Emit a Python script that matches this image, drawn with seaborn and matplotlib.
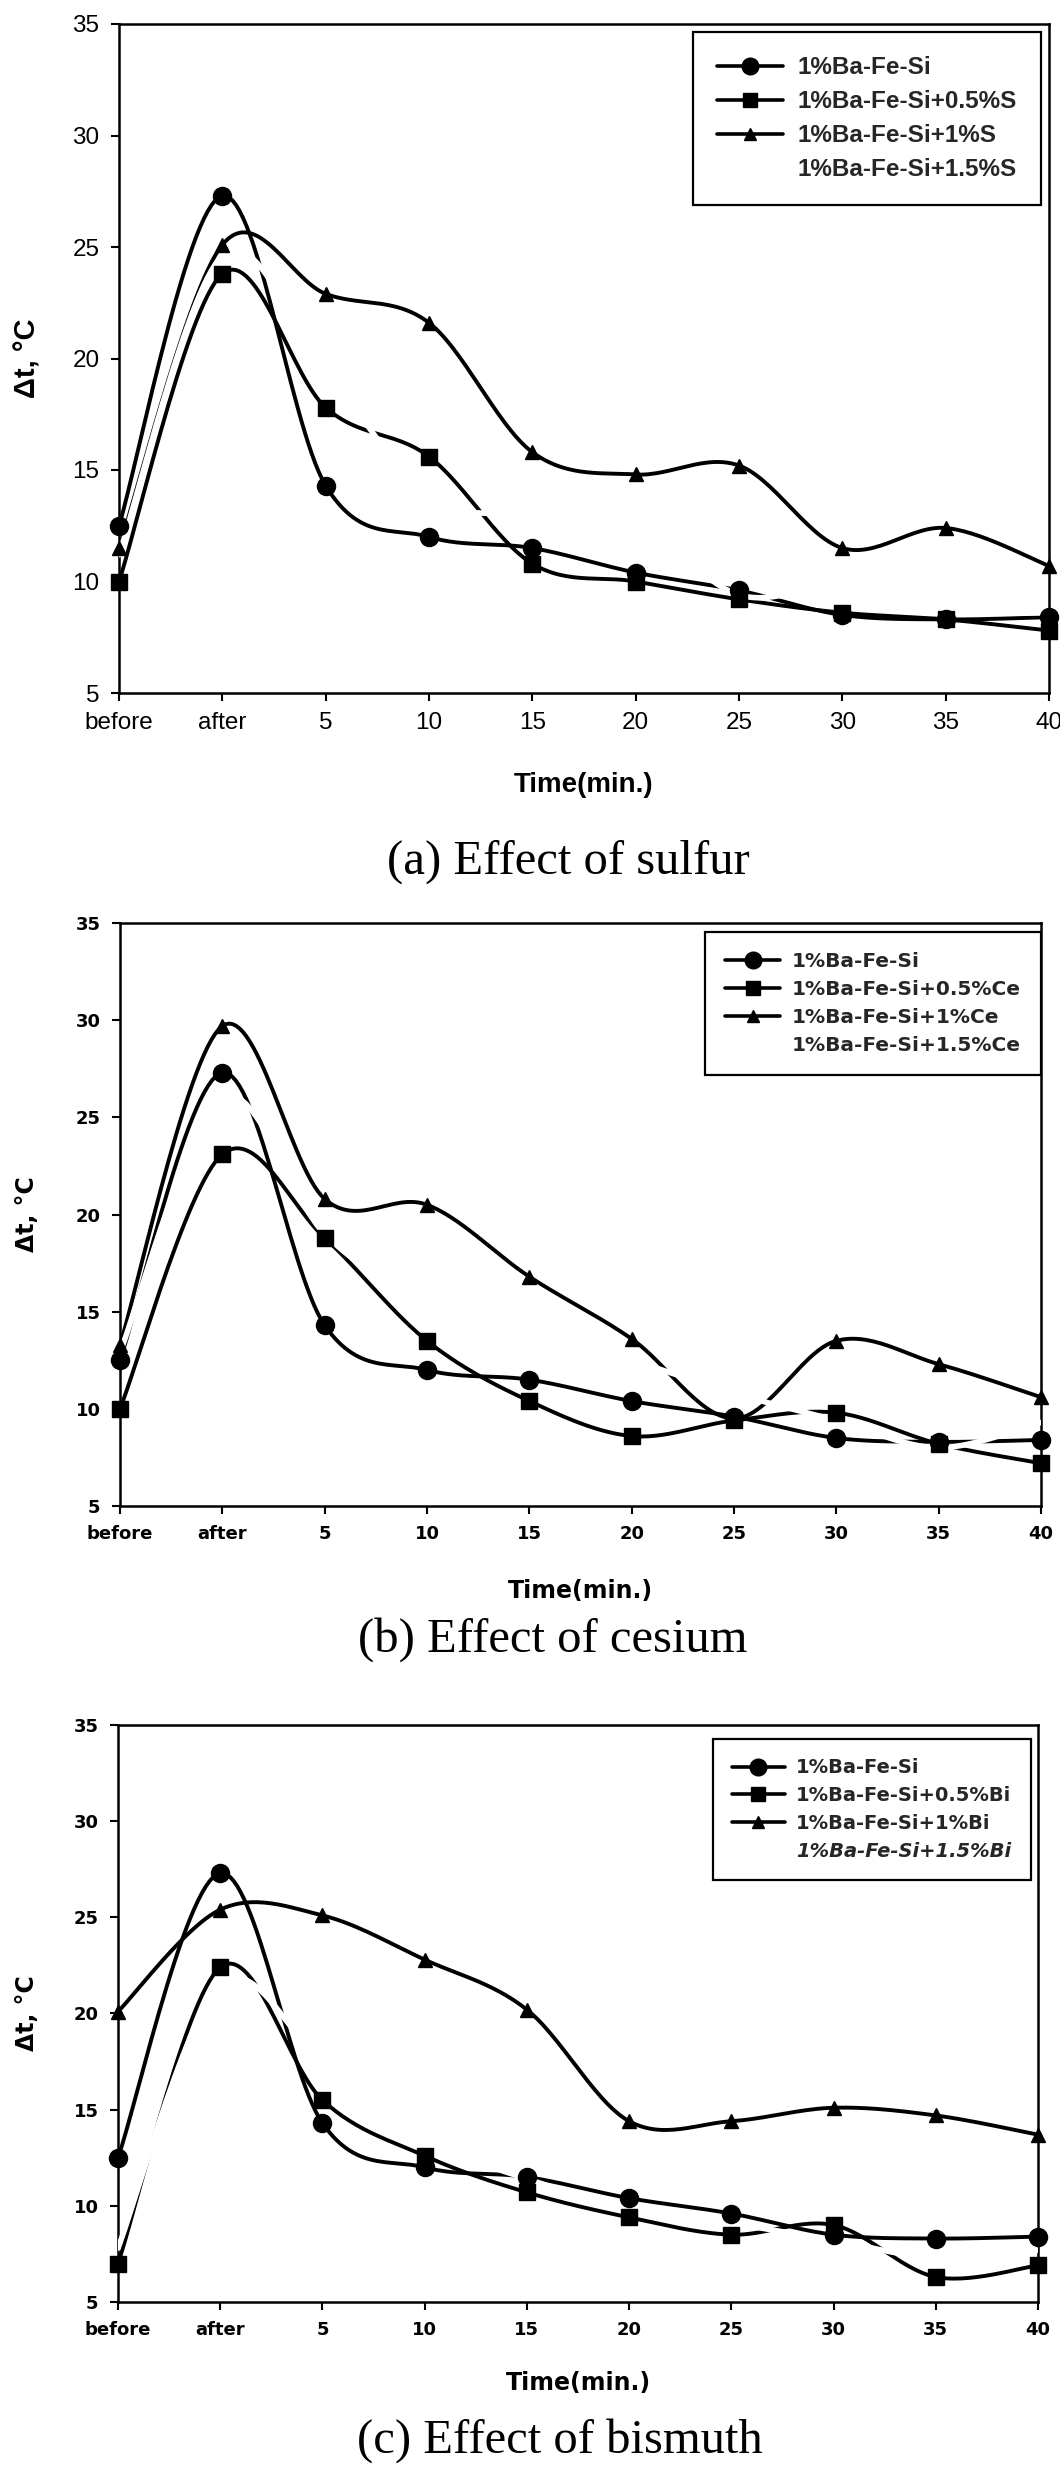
import numpy as np
import pandas as pd
import matplotlib
matplotlib.use("Agg")
import matplotlib.pyplot as plt
import seaborn as sns
from matplotlib.lines import Line2D

# ---------------- data ----------------
time_labels = ["before", "after", "5", "10", "15", "20", "25", "30", "35", "40"]

base = [12.5, 27.3, 14.3, 12.0, 11.5, 10.4, 9.6, 8.5, 8.3, 8.4]

s_05 = [10.0, 23.8, 17.8, 15.6, 10.8, 10.0, 9.2, 8.6, 8.3, 7.8]
s_10 = [11.5, 25.1, 22.9, 21.6, 15.8, 14.8, 15.2, 11.5, 12.4, 10.7]
s_15 = [11.2, 24.6, 19.5, 13.8, 13.0, 12.6, 9.4, 9.8, 8.7, 8.6]

ce_05 = [10.0, 23.1, 18.8, 13.5, 10.4, 8.6, 9.4, 9.8, 8.2, 7.2]
ce_10 = [13.3, 29.7, 20.8, 20.5, 16.8, 13.6, 9.5, 13.5, 12.3, 10.6]
ce_15 = [12.9, 26.0, 19.0, 15.5, 14.0, 12.5, 10.8, 9.4, 8.0, 9.3]

bi_05 = [7.0, 22.4, 15.5, 12.6, 10.7, 9.4, 8.5, 9.0, 6.3, 6.9]
bi_10 = [20.1, 25.4, 25.1, 22.8, 20.2, 14.4, 14.4, 15.1, 14.7, 13.7]
bi_15 = [7.8, 21.5, 17.5, 13.5, 11.4, 9.9, 9.1, 8.2, 7.3, 7.7]

labels_s = ["1%Ba-Fe-Si", "1%Ba-Fe-Si+0.5%S", "1%Ba-Fe-Si+1%S", "1%Ba-Fe-Si+1.5%S"]
labels_ce = ["1%Ba-Fe-Si", "1%Ba-Fe-Si+0.5%Ce", "1%Ba-Fe-Si+1%Ce", "1%Ba-Fe-Si+1.5%Ce"]
labels_bi = ["1%Ba-Fe-Si", "1%Ba-Fe-Si+0.5%Bi", "1%Ba-Fe-Si+1%Bi", "1%Ba-Fe-Si+1.5%Bi"]

titles = ["(a) Effect of sulfur", "(b) Effect of cesium", "(c) Effect of bismuth"]

# ---------------- helpers ----------------
def smooth_curve(ys, n=30):
    """Catmull-Rom (Excel-like) smoothing through the data points, for drawing only."""
    P = np.column_stack([np.arange(len(ys), dtype=float), np.asarray(ys, float)])
    out = []
    for i in range(len(P) - 1):
        p0 = P[i - 1] if i > 0 else P[i]
        p1, p2 = P[i], P[i + 1]
        p3 = P[i + 2] if i + 2 < len(P) else P[i + 1]
        c1 = p1 + (p2 - p0) / 6.0
        c2 = p2 - (p3 - p1) / 6.0
        t = np.linspace(0, 1, n, endpoint=False)[:, None]
        pts = ((1 - t) ** 3) * p1 + 3 * ((1 - t) ** 2) * t * c1 + 3 * (1 - t) * t ** 2 * c2 + t ** 3 * p2
        out.append(pts)
    out.append(P[-1:])
    pts = np.vstack(out)
    return pd.DataFrame({"x": pts[:, 0], "y": pts[:, 1]})


W, H = 1060, 2468
fig = plt.figure(figsize=(W / 100, H / 100), dpi=100)
sns.set_style("ticks")

panels = [
    dict(series=[base, s_05, s_10, s_15], labels=labels_s, rect=(119, 24, 1049, 693),
         tickfont=("Liberation Sans", "normal", 17.5), legfont=("Liberation Sans", 17.5),
         labfont=("Liberation Sans", 21, 20), leg=(690, 32, 1041), italic_last=False,
         xlab_y=785, title_xy=(568, 862)),
    dict(series=[base, ce_05, ce_10, ce_15], labels=labels_ce, rect=(120, 923, 1041, 1506),
         tickfont=("DejaVu Sans", "bold", 13), legfont=("DejaVu Sans", 14.5),
         labfont=("DejaVu Sans", 17, 17), leg=(666, 932, 1041), italic_last=False,
         xlab_y=1591, title_xy=(553, 1640)),
    dict(series=[base, bi_05, bi_10, bi_15], labels=labels_bi, rect=(118, 1725, 1038, 2302),
         tickfont=("DejaVu Sans", "bold", 13), legfont=("DejaVu Sans", 14),
         labfont=("DejaVu Sans", 17, 17), leg=(683, 1739, 1031), italic_last=True,
         xlab_y=2383, title_xy=(560, 2441)),
]

markers = ["o", "s", "^", None]
msizes = [13, 11, 10, 0]

for k, p in enumerate(panels):
    l, t, r, b = p["rect"]
    ax = fig.add_axes([l / W, 1 - b / H, (r - l) / W, (b - t) / H])
    for i, ys in enumerate(p["series"]):
        df = smooth_curve(ys)
        if i < 3:
            sns.lineplot(data=df, x="x", y="y", sort=False, estimator=None, ax=ax,
                         color="black", linewidth=2.8, zorder=2)
        else:
            sns.lineplot(data=df, x="x", y="y", sort=False, estimator=None, ax=ax,
                         color="white", linewidth=4.0, zorder=3)
    for i, ys in enumerate(p["series"][:3]):
        ax.plot(np.arange(len(ys)), ys, linestyle="none", marker=markers[i],
                markersize=msizes[i], color="black", zorder=4, clip_on=False)

    ax.set_xlim(0, 9)
    ax.set_ylim(5, 35)
    ax.set_xticks(np.arange(len(time_labels)))
    ax.set_xticklabels(time_labels)
    ax.set_yticks(np.arange(5, 36, 5))
    fam, wt, fs = p["tickfont"]
    for lab in ax.get_xticklabels() + ax.get_yticklabels():
        lab.set_fontfamily(fam)
        lab.set_fontweight(wt)
        lab.set_fontsize(fs)
        lab.set_color("black")
    ax.tick_params(axis="both", direction="out", length=6, width=1.5, color="black", pad=8)
    for sp in ax.spines.values():
        sp.set_visible(True)
        sp.set_color("black")
        sp.set_linewidth(1.8)

    lf, ylfs, xlfs = p["labfont"]
    ax.set_ylabel("Δt, °C", fontfamily=lf, fontweight="bold", fontsize=ylfs, color="black")
    ax.yaxis.set_label_coords((27 - l) / (r - l), 0.5)
    ax.set_xlabel("Time(min.)", fontfamily=lf, fontweight="bold", fontsize=xlfs, color="black")
    ax.xaxis.set_label_coords(0.5, -(p["xlab_y"] - b) / (b - t))
    ax.xaxis.label.set_verticalalignment("center")
    ax.yaxis.label.set_verticalalignment("center")

    # legend
    handles = []
    for i in range(4):
        if i < 3:
            handles.append(Line2D([0], [0], color="black", lw=2.6, marker=markers[i],
                                  markersize=msizes[i] - 1))
        else:
            handles.append(Line2D([0], [0], color="white", lw=2.6))
    lfam, lfs = p["legfont"]
    lx0, ly0, lx1 = p["leg"]
    leg = ax.legend(handles, p["labels"], loc="upper right",
                    bbox_to_anchor=((lx1 - l) / (r - l), (b - ly0) / (b - t)),
                    borderaxespad=0, frameon=True, fancybox=False, edgecolor="black",
                    framealpha=1, handlelength=2.7, handletextpad=0.6, labelspacing=0.45,
                    borderpad=1.0, prop={"family": lfam, "weight": "bold", "size": lfs})
    leg.get_frame().set_linewidth(1.6)
    if p["italic_last"]:
        leg.get_texts()[3].set_fontstyle("italic")

    tx, ty = p["title_xy"]
    fig.text(tx / W, 1 - ty / H, titles[k], fontfamily="Liberation Serif", fontsize=35,
             ha="center", va="center", color="black")

fig.savefig("out.png", dpi=100, facecolor="white")
